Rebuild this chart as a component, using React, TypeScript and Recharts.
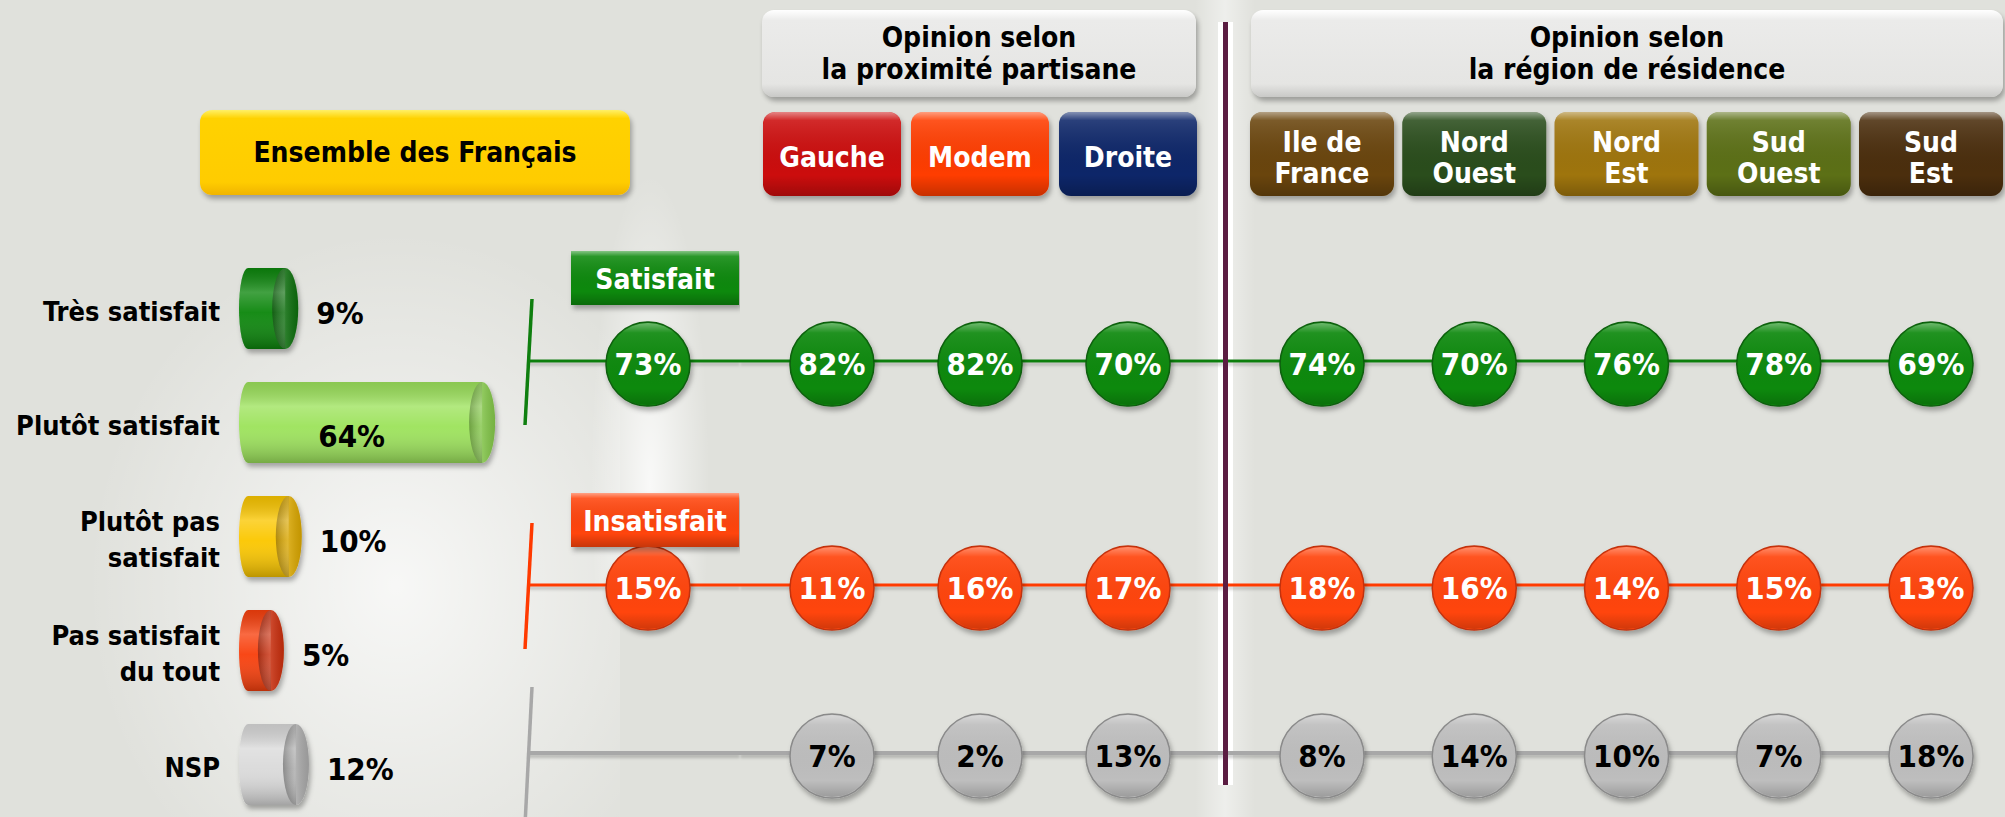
import React from 'react'
import { BarChart, Bar, XAxis, YAxis, ComposedChart, Line, ReferenceLine, LabelList } from 'recharts'

// Ensemble des Français, one bar per answer
const answers = ['Très satisfait', 'Plutôt satisfait', 'Plutôt pas\nsatisfait', 'Pas satisfait\ndu tout', 'NSP']
const ensembleValues = [9, 64, 10, 5, 12]

// summary rows, and which answers each one groups
const rows = ['Satisfait', 'Insatisfait', 'NSP']
const rowAnswers = [[0, 1], [2, 3], [4]]

const ensembleColumns = ['Ensemble']
const ensembleSatisfait = [73]
const ensembleInsatisfait = [15]
const ensembleNsp = [null]

const partisanColumns = ['Gauche', 'Modem', 'Droite']
const partisanSatisfait = [82, 82, 70]
const partisanInsatisfait = [11, 16, 17]
const partisanNsp = [7, 2, 13]

const regionColumns = ['Ile de\nFrance', 'Nord\nOuest', 'Nord\nEst', 'Sud\nOuest', 'Sud\nEst']
const regionSatisfait = [74, 70, 76, 78, 69]
const regionInsatisfait = [18, 16, 14, 15, 13]
const regionNsp = [8, 14, 10, 7, 18]

const FONT = "'DejaVu Sans Condensed', 'Liberation Sans Narrow', 'DejaVu Sans', sans-serif"

const answerColors = ['#0e870e', '#9de35b', '#fbc700', '#f8400c', '#dadada']
const answerCapColors = ['#0a6e0a', '#83c64a', '#d9a600', '#c92d08', '#a9a9a9']
const rowColors = ['#0b890b', '#ff4410', '#bebebe']
const rowStroke = ['#0a5e0a', '#c2320c', '#8a8a8a']
const rowLineColors = ['#0f7f0f', '#ff3a00', '#a8a8a8']
const badgeOffset = [-110, -92]
const columnColors: Record<string, string> = {
  Gauche: '#cc0707',
  Modem: '#ff3d06',
  Droite: '#0a2769',
  'Ile de\nFrance': '#6a4408',
  'Nord\nOuest': '#2c4e1e',
  'Nord\nEst': '#9f7410',
  'Sud\nOuest': '#5b6f13',
  'Sud\nEst': '#4b2e0b',
}

const rowPos = rowAnswers.map((m) => m.reduce((a, b) => a + b, 0) / m.length + 0.5)

function Defs() {
  return (
    <svg width={0} height={0} style={{ position: 'absolute' }}>
      <defs>
        <linearGradient id="gloss" x1="0" y1="0" x2="0" y2="1">
          <stop offset="0" stopColor="#fff" stopOpacity={0.5} />
          <stop offset="0.1" stopColor="#fff" stopOpacity={0.12} />
          <stop offset="0.75" stopColor="#000" stopOpacity={0} />
          <stop offset="1" stopColor="#000" stopOpacity={0.22} />
        </linearGradient>
        <linearGradient id="ball" x1="0" y1="0" x2="0" y2="1">
          <stop offset="0" stopColor="#fff" stopOpacity={0.4} />
          <stop offset="0.12" stopColor="#fff" stopOpacity={0.08} />
          <stop offset="0.8" stopColor="#000" stopOpacity={0} />
          <stop offset="1" stopColor="#000" stopOpacity={0.18} />
        </linearGradient>
        <linearGradient id="tube" x1="0" y1="0" x2="0" y2="1">
          <stop offset="0" stopColor="#000" stopOpacity={0.12} />
          <stop offset="0.3" stopColor="#fff" stopOpacity={0.22} />
          <stop offset="0.55" stopColor="#fff" stopOpacity={0.04} />
          <stop offset="1" stopColor="#000" stopOpacity={0.25} />
        </linearGradient>
        <linearGradient id="cap" x1="0" y1="0" x2="1" y2="0">
          <stop offset="0" stopColor="#000" stopOpacity={0.2} />
          <stop offset="0.45" stopColor="#fff" stopOpacity={0.15} />
          <stop offset="1" stopColor="#000" stopOpacity={0.1} />
        </linearGradient>
        <filter id="shadow" x="-30%" y="-30%" width="170%" height="170%">
          <feDropShadow dx="2" dy="4" stdDeviation="2.5" floodColor="#000" floodOpacity="0.3" />
        </filter>
        <filter id="lineShadow" filterUnits="userSpaceOnUse" x="-200" y="-200" width="3000" height="1400">
          <feDropShadow dx="0" dy="3" stdDeviation="1.5" floodColor="#000" floodOpacity="0.2" />
        </filter>
      </defs>
    </svg>
  )
}

function Cylinder(props: any) {
  const { x, y, width, height, index } = props
  const depth = 27
  const xs = x - depth
  const xe = x + width
  const ry = height / 2
  const rx = 13
  const rl = 9
  const body = `M${xs + rl},${y} L${xe - rx},${y} L${xe - rx},${y + height} L${xs + rl},${y + height} A${rl},${ry} 0 0 1 ${xs + rl},${y} Z`
  return (
    <g>
      <g filter="url(#shadow)">
        <path d={body} fill={answerColors[index]} />
        <ellipse cx={xe - rx} cy={y + ry} rx={rx} ry={ry} fill={answerCapColors[index]} />
      </g>
      <path d={body} fill="url(#tube)" />
      <ellipse cx={xe - rx} cy={y + ry} rx={rx} ry={ry} fill="url(#cap)" />
    </g>
  )
}

function BarValue(props: any) {
  const { x, y, width, height, value } = props
  const inside = value > 30
  const tx = inside ? x - 27 + (width + 27) * 0.44 : x + width + 18
  const ty = y + height / 2 + (inside ? 13 : 4)
  return (
    <text x={tx} y={ty} textAnchor={inside ? 'middle' : 'start'} dominantBaseline="central"
      fontSize={31} fontWeight="bold" fill="#000">
      {value}%
    </text>
  )
}

function AnswerTick(props: any) {
  const { x, y, payload } = props
  const lines = String(payload.value).split('\n')
  const lh = 36
  return (
    <text x={x} y={y} textAnchor="end" dominantBaseline="central" fontSize={27} fontWeight="bold" fill="#000">
      {lines.map((l, i) => (
        <tspan key={i} x={x} y={y + 3 + (i - (lines.length - 1) / 2) * lh}>{l}</tspan>
      ))}
    </text>
  )
}

function RowTick(props: any) {
  const { x, y, payload } = props
  const r = rowPos.indexOf(payload.value)
  if (r < 0) return null
  const top = r === 2 ? -66 : -62
  const bottom = r === 2 ? 72 : 64
  return (
    <g>
      <line x1={x + 4} y1={y + top} x2={x - 3} y2={y + bottom} stroke={rowLineColors[r]} strokeWidth={3.5} />
      {r < 2 && (
        <g>
          <rect x={x + 43} y={y + badgeOffset[r]} width={168} height={54} fill={rowColors[r]} filter="url(#shadow)" />
          <rect x={x + 43} y={y + badgeOffset[r]} width={168} height={54} fill="url(#gloss)" />
          <text x={x + 127} y={y + badgeOffset[r] + 28} textAnchor="middle" dominantBaseline="central" fontSize={28}
            fontWeight="bold" fill="#fff">
            {rows[r]}
          </text>
        </g>
      )}
    </g>
  )
}

function ColumnTick(props: any) {
  const { x, y, payload, boxWidth } = props
  const name = String(payload.value)
  const color = columnColors[name]
  if (!color) return null
  const lines = name.split('\n')
  const h = 84
  const top = y - 137
  return (
    <g>
      <rect x={x - boxWidth / 2} y={top} width={boxWidth} height={h} rx={12} fill={color} filter="url(#shadow)" />
      <rect x={x - boxWidth / 2} y={top} width={boxWidth} height={h} rx={12} fill="url(#gloss)" />
      <text x={x} y={top + h / 2} textAnchor="middle" dominantBaseline="central" fontSize={28}
        fontWeight="bold" fill="#fff">
        {lines.map((l, i) => (
          <tspan key={i} x={x} y={top + h / 2 + 3 + (i - (lines.length - 1) / 2) * 31}>{l}</tspan>
        ))}
      </text>
    </g>
  )
}

function Sphere(props: any) {
  const { cx, cy, payload, row } = props
  const v = payload ? payload[rows[row]] : null
  if (v == null || cy == null || cx == null) return null
  const y = cy + 3
  return (
    <g>
      <circle cx={cx} cy={y} r={42} fill={rowColors[row]} stroke={rowStroke[row]} strokeWidth={1.5}
        filter="url(#shadow)" />
      <circle cx={cx} cy={y} r={41} fill="url(#ball)" />
      <text x={cx} y={y} textAnchor="middle" dominantBaseline="central" fontSize={31} fontWeight="bold"
        fill={row === 2 ? '#000' : '#fff'}>
        {v}%
      </text>
    </g>
  )
}

function RowsChart(props: any) {
  const { columns, sat, ins, nsp, left, width, right, padLeft, padRight, boxWidth, withAxis } = props
  const data = columns.map((c: string, i: number) => ({
    col: c,
    Satisfait: sat[i],
    Insatisfait: ins[i],
    NSP: nsp[i],
  }))
  return (
    <div style={{ position: 'absolute', left, top: 0 }}>
      <ComposedChart width={width} height={817} data={data}
        margin={{ top: withAxis ? 249 : 109, right: right || 0, bottom: 8, left: 0 }}>
        <XAxis dataKey="col" type="category" scale="point" orientation="top" hide={withAxis}
          height={140} interval={0} axisLine={false} tickLine={false} tickSize={0} tickMargin={0}
          padding={{ left: padLeft, right: padRight }}
          tick={(p: any) => <ColumnTick {...p} boxWidth={boxWidth} />} />
        <YAxis type="number" domain={[0, 5]} reversed tickCount={6} hide={!withAxis} width={10}
          ticks={rowPos} axisLine={false} tickLine={false} tickSize={0} tickMargin={0}
          tick={(p: any) => <RowTick {...p} />} />
        {rows.map((r, i) => (
          <ReferenceLine key={r} y={rowPos[i]} stroke={rowLineColors[i]} strokeWidth={i === 2 ? 4 : 3}
            filter="url(#lineShadow)" />
        ))}
        {rows.map((r, i) => (
          <Line key={r} dataKey={(d: any) => (d[r] == null ? null : rowPos[i])} stroke="none"
            isAnimationActive={false} activeDot={false} legendType="none"
            dot={(p: any) => <Sphere key={`${r}-${p.index}`} {...p} row={i} />} />
        ))}
      </ComposedChart>
    </div>
  )
}

function HeaderBox(props: any) {
  const { left, top, width, height, lines, bg } = props
  return (
    <div style={{
      position: 'absolute', left, top, width, height, borderRadius: 12, background: bg,
      boxShadow: '2px 4px 5px rgba(0,0,0,0.3)', display: 'flex', flexDirection: 'column',
      alignItems: 'center', justifyContent: 'center', fontWeight: 'bold', fontSize: 28,
      lineHeight: '32px', color: '#000',
    }}>
      {lines.map((l: string) => <div key={l}>{l}</div>)}
    </div>
  )
}

export default function App() {
  const barData = answers.map((a, i) => ({ answer: a, value: ensembleValues[i] }))
  return (
    <div style={{
      position: 'absolute', left: 0, top: 0, width: 2005, height: 817, overflow: 'hidden',
      background: '#e0e1dc', fontFamily: FONT,
    }}>
      <Defs />
      {/* soft light areas of the slide background */}
      <div style={{ position: 'absolute', left: 60, top: 200, width: 560, height: 700,
        background: 'radial-gradient(ellipse at 60% 55%, rgba(255,255,255,0.75), rgba(255,255,255,0) 65%)' }} />
      <div style={{ position: 'absolute', left: 590, top: 170, width: 120, height: 420,
        background: 'radial-gradient(ellipse at 50% 75%, rgba(255,255,255,0.8), rgba(255,255,255,0) 70%)' }} />
      <div style={{ position: 'absolute', left: 1195, top: 0, width: 60, height: 817,
        background: 'linear-gradient(90deg, rgba(255,255,255,0), rgba(255,255,255,0.45), rgba(255,255,255,0))' }} />
      {/* white edges of the divider, under the row lines */}
      <div style={{ position: 'absolute', left: 1218, top: 22, width: 15, height: 763, background: '#fff' }} />

      <HeaderBox left={200} top={110} width={430} height={85} lines={['Ensemble des Français']}
        bg="linear-gradient(#fff066 0%, #ffd200 10%, #ffcc00 85%, #f0b400 100%)" />
      <HeaderBox left={762} top={10} width={434} height={87} lines={['Opinion selon', 'la proximité partisane']}
        bg="linear-gradient(#ffffff 0%, #ebebea 12%, #e5e5e3 85%, #c9c9c7 100%)" />
      <HeaderBox left={1251} top={10} width={752} height={87} lines={['Opinion selon', 'la région de résidence']}
        bg="linear-gradient(#ffffff 0%, #ebebea 12%, #e5e5e3 85%, #c9c9c7 100%)" />

      <div style={{ position: 'absolute', left: 0, top: 0 }}>
        <BarChart layout="vertical" width={700} height={821} data={barData}
          margin={{ top: 251, right: 76, bottom: 0, left: 0 }}>
          <XAxis type="number" domain={[0, 100]} hide />
          <YAxis type="category" dataKey="answer" width={266} axisLine={false} tickLine={false}
            tickSize={0} tickMargin={46} interval={0} tick={(p: any) => <AnswerTick {...p} />} />
          <Bar dataKey="value" barSize={81} isAnimationActive={false} shape={(p: any) => <Cylinder {...p} />}>
            <LabelList dataKey="value" content={(p: any) => <BarValue {...p} />} />
          </Bar>
        </BarChart>
      </div>

      <RowsChart columns={ensembleColumns} sat={ensembleSatisfait} ins={ensembleInsatisfait} nsp={ensembleNsp}
        left={518} width={222} padLeft={40} padRight={12} boxWidth={0} withAxis />
      <RowsChart columns={partisanColumns} sat={partisanSatisfait} ins={partisanInsatisfait} nsp={partisanNsp}
        left={740} width={485} padLeft={92} padRight={97} boxWidth={138} />
      <RowsChart columns={regionColumns} sat={regionSatisfait} ins={regionInsatisfait} nsp={regionNsp}
        left={1225} width={780} right={32} padLeft={97} padRight={42} boxWidth={144} />

      {/* divider between the two groups */}
      <div style={{ position: 'absolute', left: 1223, top: 22, width: 5, height: 763, background: '#5b1d42' }} />
    </div>
  )
}
